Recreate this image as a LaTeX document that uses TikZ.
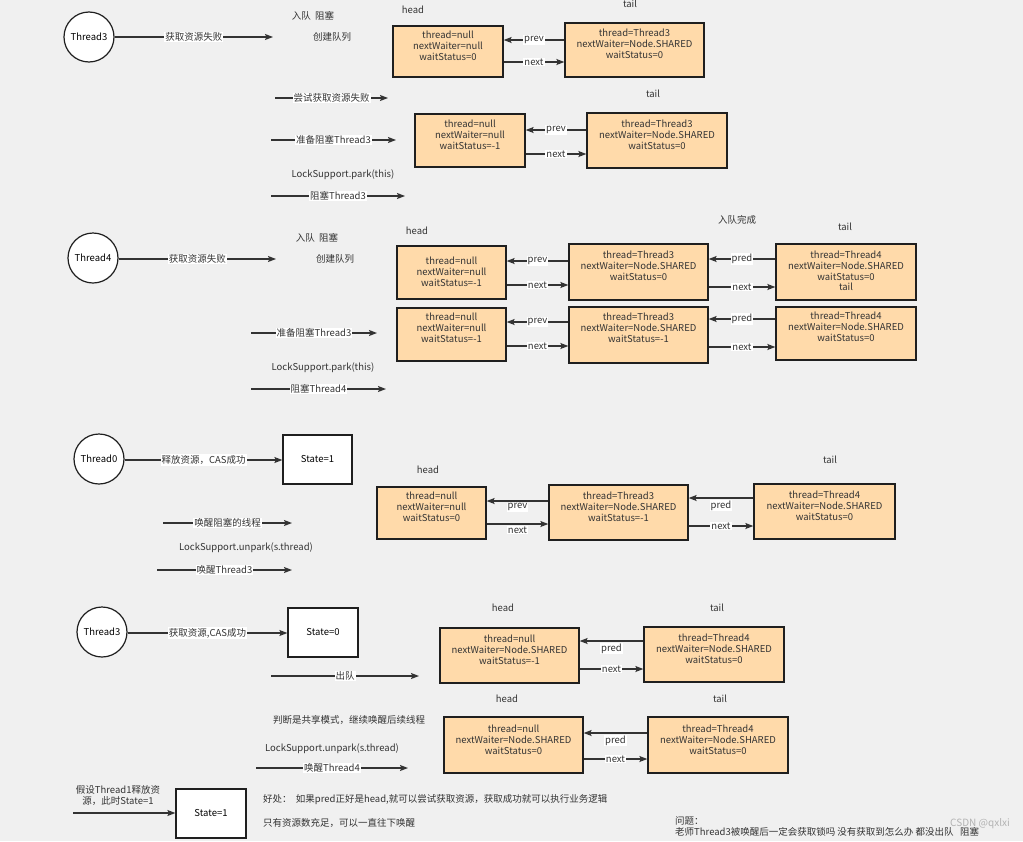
\documentclass[tikz,border=0pt]{standalone}
\usepackage{fontspec}
\setmainfont{Noto Sans CJK SC}
\usetikzlibrary{arrows.meta}
\definecolor{peach}{RGB}{255,218,170}
\definecolor{bgc}{RGB}{240,240,240}
\tikzset{
 qbox/.style={draw=black!88, fill=peach, line width=1.3pt, inner sep=0pt},
 sbox/.style={draw=black!88, fill=white, line width=1.2pt, inner sep=0pt},
 thr/.style={circle, draw=black!88, fill=white, line width=1.2pt, minimum size=50, inner sep=0pt},
 txt/.style={align=center, inner sep=0pt, text=black!80},
 arr/.style={draw=black!80, line width=1.3pt, -{Stealth[length=8pt,width=6pt,inset=1.5pt]}},
 lbl/.style={fill=white, inner sep=1pt, text=black!80},
}
\begin{document}
\begin{tikzpicture}[x=1pt,y=-1pt,font=\fontsize{9.5}{11}\selectfont]
\fill[bgc] (0,0) rectangle (1023,841);
\useasboundingbox (0,0) rectangle (1023,841);

% ---------- Section 1 ----------
\node[thr] (c1) at (89,37) {Thread3};
\coordinate (a1e) at (273,37);
\draw[arr] (c1.east) -- node[lbl]{获取资源失败} (a1e);
\node[txt] (t1a) at (313,16) {入队\ \ 阻塞};
\node[txt] (t1b) at (332,37) {创建队列};
\node[txt] (t1c) at (413,10) {head};
\node[txt] (t1d) at (630,4) {tail};
\node[qbox, minimum width=110, minimum height=51] (h1) at (448,51.5) {};
\node[txt] at (448,46) {thread=null\\nextWaiter=null\\waitStatus=0};
\node[qbox, minimum width=139, minimum height=54] (q1) at (634.5,50) {};
\node[txt] at (634.5,44) {thread=Thread3\\nextWaiter=Node.SHARED\\waitStatus=0};
\draw[arr] (q1.west |- 0,40) -- node[lbl]{prev} (h1.east |- 0,40);
\draw[arr] (h1.east |- 0,62) -- node[lbl]{next} (q1.west |- 0,62);

\coordinate (a2s) at (275,98); \coordinate (a2e) at (388,98);
\draw[arr] (a2s) -- node[lbl]{尝试获取资源失败} (a2e);
\node[txt] (t1e) at (653,94) {tail};
\node[qbox, minimum width=110, minimum height=53] (h2) at (470,140.5) {};
\node[txt] at (470,135) {thread=null\\nextWaiter=null\\waitStatus=-1};
\node[qbox, minimum width=140, minimum height=55] (q2) at (657,140.5) {};
\node[txt] at (657,135) {thread=Thread3\\nextWaiter=Node.SHARED\\waitStatus=0};
\draw[arr] (q2.west |- 0,130) -- node[lbl]{prev} (h2.east |- 0,130);
\draw[arr] (h2.east |- 0,154) -- node[lbl]{next} (q2.west |- 0,154);
\coordinate (a3s) at (271,140); \coordinate (a3e) at (396,140);
\draw[arr] (a3s) -- node[lbl]{准备阻塞Thread3} (a3e);
\node[txt] (t1f) at (343,175) {LockSupport.park(this)};
\coordinate (a4s) at (271,196); \coordinate (a4e) at (405,196);
\draw[arr] (a4s) -- node[lbl]{阻塞Thread3} (a4e);

% ---------- Section 2 ----------
\node[thr] (c2) at (93,258) {Thread4};
\coordinate (b1e) at (276,259);
\draw[arr] (c2.east |- 0,259) -- node[lbl]{获取资源失败} (b1e);
\node[txt] (t2a) at (317,238) {入队\ \ 阻塞};
\node[txt] (t2b) at (335,259) {创建队列};
\node[txt] (t2c) at (417,231) {head};
\node[txt] (t2d) at (737,220) {入队完成};
\node[txt] (t2e) at (845,227) {tail};
\node[qbox, minimum width=109, minimum height=53] (A1) at (451.5,272.5) {};
\node[txt] at (451.5,272) {thread=null\\nextWaiter=null\\waitStatus=-1};
\node[qbox, minimum width=139, minimum height=56] (A2) at (638.5,272) {};
\node[txt] at (638.5,266) {thread=Thread3\\nextWaiter=Node.SHARED\\waitStatus=0};
\node[qbox, minimum width=140, minimum height=56] (A3) at (846,272) {};
\node[txt] at (846,266) {thread=Thread4\\nextWaiter=Node.SHARED\\waitStatus=0};
\node[txt] (t2f) at (846,287) {tail};
\draw[arr] (A2.west |- 0,261) -- node[lbl]{prev} (A1.east |- 0,261);
\draw[arr] (A1.east |- 0,285) -- node[lbl]{next} (A2.west |- 0,285);
\draw[arr] (A3.west |- 0,259) -- node[lbl]{pred} (A2.east |- 0,259);
\draw[arr] (A2.east |- 0,287) -- node[lbl]{next} (A3.west |- 0,287);

\node[qbox, minimum width=109, minimum height=53] (B1) at (451.5,334.5) {};
\node[txt] at (451.5,328) {thread=null\\nextWaiter=null\\waitStatus=-1};
\node[qbox, minimum width=139, minimum height=56] (B2) at (638.5,335) {};
\node[txt] at (638.5,328) {thread=Thread3\\nextWaiter=Node.SHARED\\waitStatus=-1};
\node[qbox, minimum width=140, minimum height=53] (B3) at (846,333.5) {};
\node[txt] at (846,327) {thread=Thread4\\nextWaiter=Node.SHARED\\waitStatus=0};
\draw[arr] (B2.west |- 0,322) -- node[lbl]{prev} (B1.east |- 0,322);
\draw[arr] (B1.east |- 0,346) -- node[lbl]{next} (B2.west |- 0,346);
\draw[arr] (B3.west |- 0,319) -- node[lbl]{pred} (B2.east |- 0,319);
\draw[arr] (B2.east |- 0,347) -- node[lbl]{next} (B3.west |- 0,347);
\coordinate (b2s) at (251,333); \coordinate (b2e) at (377,333);
\draw[arr] (b2s) -- node[lbl]{准备阻塞Thread3} (b2e);
\node[txt] (t2g) at (323,368) {LockSupport.park(this)};
\coordinate (b3s) at (251,389); \coordinate (b3e) at (386,389);
\draw[arr] (b3s) -- node[lbl]{阻塞Thread4} (b3e);

% ---------- Section 3 ----------
\node[thr] (c3) at (99,459) {Thread0};
\node[sbox, minimum width=69, minimum height=49] (S1) at (317.5,459.5) {State=1};
\draw[arr] (c3.east |- 0,460) -- node[lbl]{释放资源，CAS成功} (S1.west |- 0,460);
\node[txt] (t3a) at (428,470) {head};
\node[txt] (t3b) at (830,460) {tail};
\node[qbox, minimum width=109, minimum height=52] (C1) at (431.5,513) {};
\node[txt] at (431.5,507) {thread=null\\nextWaiter=null\\waitStatus=0};
\node[qbox, minimum width=139, minimum height=55] (C2) at (618.5,512.5) {};
\node[txt] at (618.5,507) {thread=Thread3\\nextWaiter=Node.SHARED\\waitStatus=-1};
\node[qbox, minimum width=141, minimum height=55] (C3) at (824.5,511.5) {};
\node[txt] at (824.5,506) {thread=Thread4\\nextWaiter=Node.SHARED\\waitStatus=0};
\draw[arr] (C2.west |- 0,501) -- node[lbl, below=1pt]{prev} (C1.east |- 0,501);
\draw[arr] (C1.east |- 0,524) -- node[lbl, below=1pt]{next} (C2.west |- 0,524);
\draw[arr] (C3.west |- 0,498) -- node[lbl, below=1pt]{pred} (C2.east |- 0,498);
\draw[arr] (C2.east |- 0,526) -- node[lbl]{next} (C3.west |- 0,526);
\coordinate (d1s) at (163,523); \coordinate (d1e) at (292,523);
\draw[arr] (d1s) -- node[lbl]{唤醒阻塞的线程} (d1e);
\node[txt] (t3c) at (246,548) {LockSupport.unpark(s.thread)};
\coordinate (d2s) at (157,570); \coordinate (d2e) at (292,570);
\draw[arr] (d2s) -- node[lbl]{唤醒Thread3} (d2e);

% ---------- Section 4 ----------
\node[thr] (c4) at (102,632) {Thread3};
\node[sbox, minimum width=70, minimum height=49] (S0) at (323,632.5) {State=0};
\draw[arr] (c4.east |- 0,633) -- node[lbl]{获取资源,CAS成功} (S0.west |- 0,633);
\node[txt] (t4a) at (503,608) {head};
\node[txt] (t4b) at (717,608) {tail};
\node[qbox, minimum width=139, minimum height=55] (D1) at (509.5,655.5) {};
\node[txt] at (509.5,650) {thread=null\\nextWaiter=Node.SHARED\\waitStatus=-1};
\node[qbox, minimum width=140, minimum height=55] (D2) at (714,654.5) {};
\node[txt] at (714,649) {thread=Thread4\\nextWaiter=Node.SHARED\\waitStatus=0};
\draw[arr] (D2.west |- 0,641) -- node[lbl, below=1pt]{pred} (D1.east |- 0,641);
\draw[arr] (D1.east |- 0,669) -- node[lbl]{next} (D2.west |- 0,669);
\coordinate (e1s) at (271,676); \coordinate (e1e) at (419,676);
\draw[arr] (e1s) -- node[lbl]{出队} (e1e);
\node[txt] (t4c) at (507,699) {head};
\node[txt] (t4d) at (720,699) {tail};
\node[qbox, minimum width=139, minimum height=56] (E1) at (513.5,745) {};
\node[txt] at (513.5,740) {thread=null\\nextWaiter=Node.SHARED\\waitStatus=0};
\node[qbox, minimum width=140, minimum height=56] (E2) at (718,745) {};
\node[txt] at (718,740) {thread=Thread4\\nextWaiter=Node.SHARED\\waitStatus=0};
\draw[arr] (E2.west |- 0,733) -- node[lbl, below=1pt]{pred} (E1.east |- 0,733);
\draw[arr] (E1.east |- 0,759) -- node[lbl]{next} (E2.west |- 0,759);
\node[txt] (t4e) at (349,720) {判断是共享模式，继续唤醒后续线程};
\node[txt] (t4f) at (332,749) {LockSupport.unpark(s.thread)};
\coordinate (e2s) at (256,768); \coordinate (e2e) at (408,768);
\draw[arr] (e2s) -- node[lbl]{唤醒Thread4} (e2e);

\node[txt] (t4g) at (118,795) {假设Thread1释放资\\源，此时State=1};
\node[sbox, minimum width=70, minimum height=49] (S2) at (211,813.5) {State=1};
\coordinate (e3s) at (73,813);
\draw[arr] (e3s) -- (S2.west |- 0,813);
\node[txt, anchor=west] (t4h) at (263,800) {好处：\ \ 如果pred正好是head,就可以尝试获取资源，获取成功就可以执行业务逻辑};
\node[txt, anchor=west] (t4i) at (263,823) {只有资源数充足，可以一直往下唤醒};
\node[txt, anchor=west] (t4j) at (675,821) {问题：};
\node[txt, anchor=west] (t4k) at (675,832) {老师Thread3被唤醒后一定会获取锁吗 没有获取到怎么办 都没出队\ \ \ 阻塞};
\node[txt, text=black!30, font=\fontsize{10}{12}\selectfont] (wm) at (980,824) {CSDN @qxlxi};
\end{tikzpicture}
\end{document}
